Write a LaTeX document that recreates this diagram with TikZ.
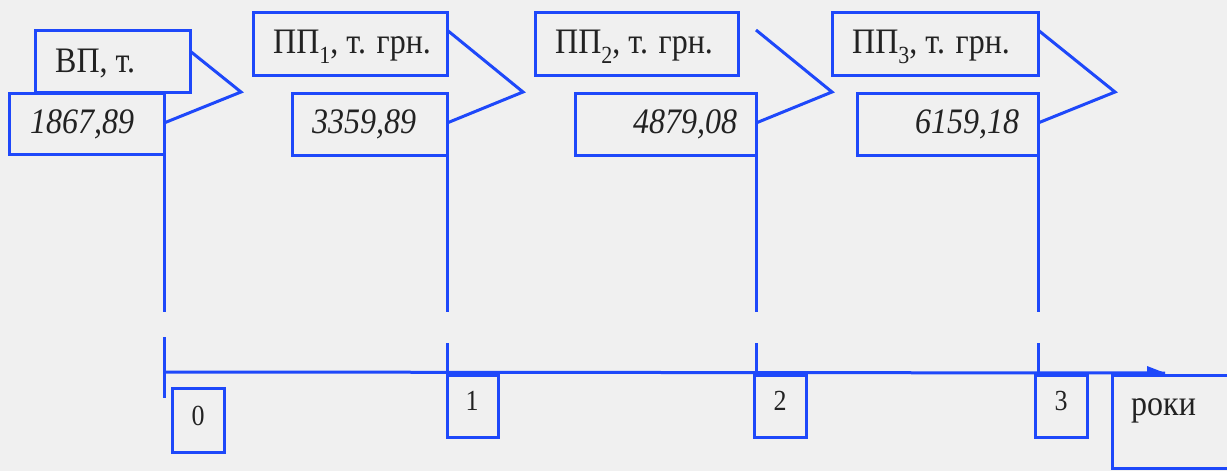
\documentclass[tikz,border=0pt]{standalone}
\usepackage{fontspec}
\setmainfont{Liberation Serif}
\definecolor{lb}{RGB}{30,72,250}
\definecolor{bg}{RGB}{240,240,240}
\definecolor{tx}{RGB}{34,34,34}
\newcommand{\sbs}[1]{\raisebox{-0.28em}{\fontsize{22}{22}\selectfont #1}}
\newcommand{\tall}[1]{\scalebox{1}[1.12]{#1}}
\begin{document}
\begin{tikzpicture}[x=1pt,y=-1pt,
 box/.style={draw=lb,line width=3pt,inner sep=0pt,outer sep=0pt,anchor=north west},
 big/.style={text=tx,font=\fontsize{32}{38}\selectfont,inner sep=0pt,anchor=base west},
 num/.style={text=tx,font=\itshape\fontsize{32}{38}\selectfont,inner sep=0pt,anchor=base west},
 small/.style={text=tx,font=\fontsize{26}{30}\selectfont,inner sep=0pt,anchor=base},
 ln/.style={draw=lb,line width=3pt}]
\useasboundingbox (0,0) rectangle (1227,471);
\fill[bg] (0,0) rectangle (1227,471);
\clip (0,0) rectangle (1227,471);
% header boxes
\node[box,minimum width=155pt,minimum height=62pt] (h0) at (35,30) {};
\node[box,minimum width=194pt,minimum height=63pt] (h1) at (253,12) {};
\node[box,minimum width=203pt,minimum height=63pt] (h2) at (535,12) {};
\node[box,minimum width=206pt,minimum height=63pt] (h3) at (832,12) {};
% value boxes
\node[box,minimum width=154.5pt,minimum height=61pt] (v0) at (9.5,93) {};
\node[box,minimum width=155pt,minimum height=62pt] (v1) at (292,93) {};
\node[box,minimum width=181pt,minimum height=62pt] (v2) at (575,93) {};
\node[box,minimum width=181pt,minimum height=62pt] (v3) at (857,93) {};
% texts
\node[big] (th0) at (55,72) {\tall{ВП, т.}};
\node[big] (th1) at (273,53) {\tall{ПП\sbs{1}, т. грн.}};
\node[big] (th2) at (555,53) {\tall{ПП\sbs{2}, т. грн.}};
\node[big] (th3) at (852,53) {\tall{ПП\sbs{3}, т. грн.}};
\node[num] (tv0) at (30,133) {\tall{1867,89}};
\node[num] (tv1) at (312,133) {\tall{3359,89}};
\node[num] (tv2) at (633,133) {\tall{4879,08}};
\node[num] (tv3) at (915,133) {\tall{6159,18}};
% triangle pointers
\coordinate (p0) at (241,92);
\coordinate (p1) at (523,92);
\coordinate (p2) at (832,92);
\coordinate (p3) at (1115,92);
\draw[ln] (190,51) -- (p0) -- (164,123);
\draw[ln] (447,30) -- (p1) -- (447,123);
\draw[ln] (756,30) -- (p2) -- (756,123);
\draw[ln] (1038,30) -- (p3) -- (1038,123);
% year boxes
\node[box,minimum width=52pt,minimum height=64pt] (y0) at (172,388) {};
\node[box,minimum width=51pt,minimum height=62pt] (y1) at (447,375) {};
\node[box,minimum width=52pt,minimum height=62pt] (y2) at (754,375) {};
\node[box,minimum width=52pt,minimum height=62pt] (y3) at (1035,375) {};
\node[box,minimum width=130pt,minimum height=93pt] (yr) at (1112,375) {};
\node[small] (ty0) at (198,425) {\tall{0}};
\node[small] (ty1) at (472,410) {\tall{1}};
\node[small] (ty2) at (780,410) {\tall{2}};
\node[small] (ty3) at (1061,410) {\tall{3}};
\node[big] (tyr) at (1131,415) {\tall{роки}};
% vertical lines
\draw[ln] (v0.south east) -- (164,312);
\draw[ln] (164,337) -- (164,398);
\draw[ln] (v1.south east) -- (447,312);
\draw[ln] (447,343) -- (y1.north west);
\draw[ln] (756,155) -- (756,312);
\draw[ln] (756,343) -- (756,375);
\draw[ln] (v3.south east) -- (1038,312);
\draw[ln] (1038,343) -- (1038,375);
% axis
\coordinate (ax0) at (164,372);
\coordinate (axe) at (1165,373);
\draw[ln] (ax0) -- (axe);
\fill[lb] (1147,366) -- (axe) -- (1147,373) -- cycle;
\end{tikzpicture}
\end{document}
